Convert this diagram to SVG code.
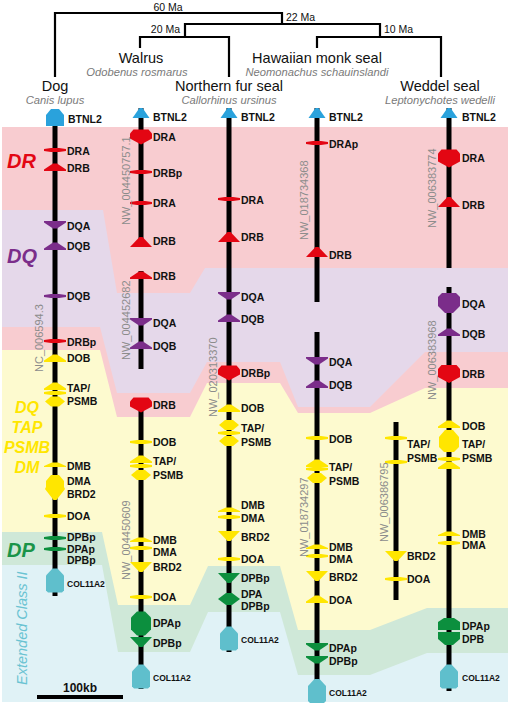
<svg xmlns="http://www.w3.org/2000/svg" xmlns:xlink="http://www.w3.org/1999/xlink" width="510" height="705" viewBox="0 0 510 705">
<style>
.t{font-family:"Liberation Sans",Arial,sans-serif;font-weight:bold;font-size:10.5px;fill:#111}
.ts{font-family:"Liberation Sans",Arial,sans-serif;font-weight:bold;font-size:8.5px;fill:#111}
.sp{font-family:"Liberation Sans",Arial,sans-serif;font-size:14.5px;fill:#111;text-anchor:middle}
.la{font-family:"Liberation Sans",Arial,sans-serif;font-style:italic;font-size:11.2px;fill:#7a7a7a;text-anchor:middle}
.ma{font-family:"Liberation Sans",Arial,sans-serif;font-size:10.5px;fill:#111}
.acc{font-family:"Liberation Sans",Arial,sans-serif;font-size:11px;fill:#8c8c8c}
.big{font-family:"Liberation Sans",Arial,sans-serif;font-weight:bold;font-style:italic;font-size:20px}
.chr{stroke:#000;stroke-width:5;fill:none}
.tree{stroke:#000;stroke-width:2.2;fill:none}
.r{fill:#e30613}.p{fill:#7b2d8a}.y{fill:#ffe600}.g{fill:#0c8f3e}.c{fill:#5fbfcc}.b{fill:#2aa2dc}
</style>
<defs>
<path id="bar" d="M-11,-1 L-4,-2 L4,-2 L11,-1 L11,1 L4,2 L-4,2 L-11,1 Z"/>
<path id="up" d="M-11,4 L-11,2.5 L-2,-3.5 L2,-3.5 L11,2.5 L11,4 Z"/>
<path id="down" d="M-11,-4 L-11,-2.5 L-2,3.5 L2,3.5 L11,-2.5 L11,-4 Z"/>
<path id="upB" d="M-11,5 L-1.5,-5 L1.5,-5 L11,5 Z"/>
<path id="downB" d="M-11,-5 L11,-5 L1.5,5 L-1.5,5 Z"/>
<path id="upS" d="M-11,2 L-11,1 L-3,-2.5 L3,-2.5 L11,1 L11,2 Z"/>
<path id="hexH" d="M-10,0 L-4,-5 L4,-5 L10,0 L4,5 L-4,5 Z"/>
<path id="hexG" d="M-11,0 L-3,-6 L3,-6 L11,0 L3,6 L-3,6 Z"/>
<path id="heart" d="M-11,-3.5 L-7.5,-7.5 L7.5,-7.5 L11,-3.5 L11,1.5 L0,7.5 L-11,1.5 Z"/>
<path id="heartL" d="M-11,-5 L-7.5,-9 L7.5,-9 L11,-5 L11,3 L0,9 L-11,3 Z"/>
<path id="hexV" d="M-10,-6 L-4,-12 L4,-12 L10,-6 L10,6 L4,12 L-4,12 L-10,6 Z"/>
<path id="house" d="M-9,-5 L-2.5,-12 L2.5,-12 L9,-5 L9,10 L7,12 L-7,12 L-9,10 Z"/>
<path id="tri" d="M-8.5,5 L-1.5,-5 L1.5,-5 L8.5,5 Z"/>
</defs>

<g id="bands">
<rect x="2" y="127" width="506" height="575" fill="#f8ccd0"/>
<polygon fill="#e5d8ea" points="2,210 103,210 117,293 190,293 205,268 508,268 508,352 425,352 370,407 298,407 280,362 207,362 190,393 117,393 100,327 2,327"/>
<polygon fill="#fdfacf" points="2,350 100,350 117,417 190,417 207,383 280,383 298,413 370,413 425,388 508,388 508,702 2,702"/>
<polygon fill="#cfe8d8" points="2,532 102,532 118,605 190,605 208,566 280,566 298,630 370,630 427,608 508,608 508,702 2,702"/>
<polygon fill="#e0f2f6" points="2,565 102,565 118,652 190,652 208,612 280,612 298,675 370,675 427,653 508,653 508,702 2,702"/>
</g>

<g id="category-labels">
<text class="big" x="7" y="168" fill="#e30613">DR</text>
<text class="big" x="7" y="263" fill="#7b2d8a">DQ</text>
<g class="big" fill="#ffe600" font-size="16" text-anchor="middle" style="font-size:16px">
<text x="27" y="413">DQ</text>
<text x="27" y="433">TAP</text>
<text x="27" y="453">PSMB</text>
<text x="27" y="473">DM</text>
</g>
<text class="big" x="7" y="557" fill="#1a9448">DP</text>
<text transform="translate(27,685) rotate(-90)" font-family="Liberation Sans, Arial, sans-serif" font-style="italic" font-size="14.5" fill="#6ac3d2">Extended Class II</text>
</g>

<g id="tree">
<polyline class="tree" points="55,77 55,13 282,13 282,24"/>
<polyline class="tree" points="185,37 185,24 380,24 380,37"/>
<polyline class="tree" points="140,48 140,37 229,37 229,77"/>
<polyline class="tree" points="317,48 317,37 441,37 441,77"/>
<text class="ma" x="168" y="10.5" text-anchor="middle">60 Ma</text>
<text class="ma" x="286" y="21">22 Ma</text>
<text class="ma" x="180" y="33" text-anchor="end">20 Ma</text>
<text class="ma" x="384" y="33">10 Ma</text>
</g>

<g id="species">
<text class="sp" x="141" y="63">Walrus</text>
<text class="la" x="137" y="76">Odobenus rosmarus</text>
<text class="sp" x="317" y="63">Hawaiian monk seal</text>
<text class="la" x="317" y="76">Neomonachus schauinslandi</text>
<text class="sp" x="55" y="91">Dog</text>
<text class="la" x="55" y="104">Canis lupus</text>
<text class="sp" x="229" y="91">Northern fur seal</text>
<text class="la" x="229" y="104">Callorhinus ursinus</text>
<text class="sp" x="440" y="91">Weddel seal</text>
<text class="la" x="440" y="104">Leptonychotes wedelli</text>
</g>

<g id="dog">
<line class="chr" x1="55" y1="110" x2="55" y2="596"/>
<polygon class="b" points="46,126 46,115 51,109 59,109 64,115 64,126"/>
<text class="t" x="68" y="123">BTNL2</text>
<use href="#bar" x="55" y="150" class="r"/><text class="t" x="67" y="154.5">DRA</text>
<use href="#up" x="55" y="167" class="r"/><text class="t" x="67" y="172">DRB</text>
<use href="#down" x="55" y="225" class="p"/><text class="t" x="67" y="230">DQA</text>
<use href="#up" x="55" y="246" class="p"/><text class="t" x="67" y="250">DQB</text>
<use href="#bar" x="55" y="296" class="p"/><text class="t" x="67" y="300">DQB</text>
<use href="#bar" x="55" y="341" class="r"/><text class="t" x="67" y="346">DRBp</text>
<use href="#up" x="55" y="358" class="y"/><text class="t" x="67" y="362">DOB</text>
<use href="#up" x="55" y="386" class="y"/>
<use href="#bar" x="55" y="393" class="y"/>
<use href="#hexH" x="55" y="401.5" class="y"/>
<text class="t" x="67" y="392">TAP/</text><text class="t" x="67" y="405">PSMB</text>
<use href="#upS" x="55" y="465" class="y"/><text class="t" x="67" y="470">DMB</text>
<polygon class="y" points="46,481 51,475 59,475 64,481 64,487 65,489 56.5,500 53.5,500 45,489 46,487"/>
<text class="t" x="67" y="485">DMA</text><text class="t" x="67" y="498">BRD2</text>
<use href="#bar" x="55" y="516" class="y"/><text class="t" x="67" y="520">DOA</text>
<use href="#bar" x="55" y="538" class="g"/>
<use href="#bar" x="55" y="549" class="g"/>
<text class="t" x="67" y="541">DPBp</text><text class="t" x="67" y="552.5">DPAp</text><text class="t" x="67" y="564">DPBp</text>
<use href="#house" x="55" y="580.5" class="c"/><text class="ts" x="67" y="587">COL11A2</text>
<text class="acc" transform="translate(43,372) rotate(-90)">NC_006594.3</text>
</g>

<g id="walrus">
<line class="chr" x1="141" y1="108" x2="141" y2="247"/>
<use href="#tri" x="141" y="113" class="b"/><text class="t" x="153" y="121">BTNL2</text>
<use href="#heart" x="141" y="137" class="r"/><text class="t" x="153" y="141">DRA</text>
<use href="#bar" x="141" y="172" class="r"/><text class="t" x="153" y="176.5">DRBp</text>
<use href="#bar" x="141" y="203" class="r"/><text class="t" x="153" y="207">DRA</text>
<use href="#upB" x="141" y="242" class="r"/><text class="t" x="153" y="245">DRB</text>
<text class="acc" transform="translate(130,225) rotate(-90)">NW_004450757.1</text>
</g>
<g id="walrus-2">
<line class="chr" x1="141" y1="271" x2="141" y2="369"/>
<use href="#up" x="141" y="275" class="r"/><text class="t" x="153" y="280">DRB</text>
<use href="#down" x="141" y="322" class="p"/><text class="t" x="153" y="327">DQA</text>
<use href="#up" x="141" y="345" class="p"/><text class="t" x="153" y="350">DQB</text>
<text class="acc" transform="translate(130,360) rotate(-90)">NW_004452682</text>
</g>
<g id="walrus-3">
<line class="chr" x1="141" y1="398" x2="141" y2="689"/>
<use href="#heart" x="141" y="405" class="r"/><text class="t" x="153" y="408.5">DRB</text>
<use href="#bar" x="141" y="442" class="y"/><text class="t" x="153" y="446">DOB</text>
<use href="#up" x="141" y="459" class="y"/>
<use href="#bar" x="141" y="466" class="y"/>
<use href="#hexH" x="141" y="475" class="y"/>
<text class="t" x="153" y="465">TAP/</text><text class="t" x="153" y="478.5">PSMB</text>
<use href="#upS" x="141" y="540" class="y"/><text class="t" x="153" y="544">DMB</text>
<use href="#bar" x="141" y="548" class="y"/><text class="t" x="153" y="556">DMA</text>
<use href="#downB" x="141" y="567" class="y"/><text class="t" x="153" y="570.5">BRD2</text>
<use href="#bar" x="141" y="597" class="y"/><text class="t" x="153" y="601">DOA</text>
<use href="#hexV" x="141" y="623.5" class="g"/><text class="t" x="153" y="627">DPAp</text>
<use href="#downB" x="141" y="642" class="g"/><text class="t" x="153" y="647">DPBp</text>
<use href="#house" x="141" y="676.5" class="c"/><text class="ts" x="153" y="681">COL11A2</text>
<text class="acc" transform="translate(130,580) rotate(-90)">NW_004450609</text>
</g>

<g id="fur-seal">
<line class="chr" x1="229" y1="108" x2="229" y2="652"/>
<use href="#tri" x="229" y="113" class="b"/><text class="t" x="241" y="121">BTNL2</text>
<use href="#bar" x="229" y="199" class="r"/><text class="t" x="241" y="203.5">DRA</text>
<use href="#upB" x="229" y="237" class="r"/><text class="t" x="241" y="241">DRB</text>
<use href="#down" x="229" y="296" class="p"/><text class="t" x="241" y="301">DQA</text>
<use href="#up" x="229" y="318" class="p"/><text class="t" x="241" y="322.5">DQB</text>
<use href="#heart" x="229" y="373" class="r"/><text class="t" x="241" y="377">DRBp</text>
<use href="#up" x="229" y="408" class="y"/><text class="t" x="241" y="412">DOB</text>
<use href="#hexH" x="229" y="425" class="y"/>
<use href="#bar" x="229" y="433" class="y"/>
<use href="#hexH" x="229" y="441" class="y"/>
<text class="t" x="241" y="432">TAP/</text><text class="t" x="241" y="445.5">PSMB</text>
<use href="#upS" x="229" y="510" class="y"/><text class="t" x="241" y="508.5">DMB</text>
<use href="#bar" x="229" y="517" class="y"/><text class="t" x="241" y="522">DMA</text>
<use href="#downB" x="229" y="536" class="y"/><text class="t" x="241" y="541">BRD2</text>
<use href="#bar" x="229" y="559" class="y"/><text class="t" x="241" y="563">DOA</text>
<use href="#downB" x="229" y="578" class="g"/><text class="t" x="241" y="582">DPBp</text>
<use href="#hexG" x="229" y="599" class="g"/>
<text class="t" x="241" y="598">DPA</text><text class="t" x="241" y="609.5">DPBp</text>
<use href="#house" x="229" y="638.5" class="c"/><text class="ts" x="241" y="643">COL11A2</text>
<text class="acc" transform="translate(217,417) rotate(-90)">NW_020313370</text>
</g>

<g id="monk-seal">
<line class="chr" x1="317" y1="108" x2="317" y2="302"/>
<use href="#tri" x="317" y="113" class="b"/><text class="t" x="329" y="121">BTNL2</text>
<use href="#bar" x="317" y="143" class="r"/><text class="t" x="329" y="148">DRAp</text>
<use href="#upB" x="317" y="252" class="r"/><text class="t" x="329" y="259">DRB</text>
<text class="acc" transform="translate(308,240) rotate(-90)">NW_018734368</text>
</g>
<g id="monk-seal-2">
<line class="chr" x1="317" y1="332" x2="317" y2="682"/>
<use href="#down" x="317" y="361" class="p"/><text class="t" x="329" y="366">DQA</text>
<use href="#up" x="317" y="384" class="p"/><text class="t" x="329" y="389">DQB</text>
<use href="#bar" x="317" y="438" class="y"/><text class="t" x="329" y="443">DOB</text>
<use href="#up" x="317" y="463" class="y"/>
<use href="#bar" x="317" y="469" class="y"/>
<use href="#hexH" x="317" y="478" class="y"/>
<text class="t" x="329" y="471">TAP/</text><text class="t" x="329" y="485">PSMB</text>
<use href="#upS" x="317" y="547" class="y"/><text class="t" x="329" y="551">DMB</text>
<use href="#bar" x="317" y="556" class="y"/><text class="t" x="329" y="563">DMA</text>
<use href="#downB" x="317" y="576" class="y"/><text class="t" x="329" y="581">BRD2</text>
<use href="#up" x="317" y="599" class="y"/><text class="t" x="329" y="604">DOA</text>
<use href="#down" x="317" y="647" class="g"/><text class="t" x="329" y="652">DPAp</text>
<use href="#down" x="317" y="660" class="g"/><text class="t" x="329" y="664.5">DPBp</text>
<use href="#house" x="317" y="691" class="c"/><text class="ts" x="329" y="696">COL11A2</text>
<text class="acc" transform="translate(308,557) rotate(-90)">NW_018734297</text>
</g>

<g id="weddel-scaffold">
<line class="chr" x1="396" y1="422" x2="396" y2="600"/>
<use href="#bar" x="396" y="438" class="y"/>
<use href="#bar" x="396" y="462" class="y"/>
<text class="t" x="407" y="448">TAP/</text><text class="t" x="407" y="462">PSMB</text>
<use href="#downB" x="396" y="556" class="y"/><text class="t" x="407" y="559.5">BRD2</text>
<use href="#bar" x="396" y="579" class="y"/><text class="t" x="407" y="583">DOA</text>
<text class="acc" transform="translate(388,542) rotate(-90)">NW_006386795</text>
</g>

<g id="weddel-seal">
<line class="chr" x1="449" y1="108" x2="449" y2="268"/>
<use href="#tri" x="449" y="113" class="b"/><text class="t" x="462" y="121">BTNL2</text>
<use href="#heartL" x="449" y="158.5" class="r"/><text class="t" x="462" y="162">DRA</text>
<use href="#upB" x="449" y="202" class="r"/><text class="t" x="462" y="208.5">DRB</text>
<text class="acc" transform="translate(436,228) rotate(-90)">NW_006383774</text>
</g>
<g id="weddel-seal-2">
<line class="chr" x1="449" y1="287" x2="449" y2="691"/>
<polygon class="p" points="438,297 442,293 456,293 460,297 460,306 453,313 445,313 438,306"/>
<text class="t" x="462" y="308">DQA</text>
<use href="#up" x="449" y="332" class="p"/><text class="t" x="462" y="338">DQB</text>
<use href="#heartL" x="449" y="374" class="r"/><text class="t" x="462" y="378">DRB</text>
<use href="#up" x="449" y="424" class="y"/><text class="t" x="462" y="430">DOB</text>
<polygon class="y" points="439,437 445,430 453,430 459,437 459,447 454,452 444,452 439,447"/>
<use href="#bar" x="449" y="459" class="y"/>
<use href="#up" x="449" y="465" class="y"/>
<text class="t" x="462" y="447.5">TAP/</text><text class="t" x="462" y="461.5">PSMB</text>
<use href="#upS" x="449" y="534" class="y"/><text class="t" x="462" y="537.5">DMB</text>
<use href="#bar" x="449" y="543" class="y"/><text class="t" x="462" y="549">DMA</text>
<polygon class="g" points="438,622 444,618 454,618 460,622 460,630 438,630"/>
<text class="t" x="462" y="630">DPAp</text>
<polygon class="g" points="438,632 460,632 460,639 453,645 445,645 438,639"/>
<text class="t" x="462" y="643">DPB</text>
<use href="#house" x="449" y="676.5" class="c"/><text class="ts" x="462" y="681">COL11A2</text>
<text class="acc" transform="translate(436,400) rotate(-90)">NW_006383968</text>
</g>

<g id="scale-bar">
<rect x="37" y="695" width="86" height="4" fill="#000"/>
<text x="80" y="692" text-anchor="middle" font-family="Liberation Sans, Arial, sans-serif" font-weight="bold" font-size="12" fill="#111">100kb</text>
</g>
</svg>
